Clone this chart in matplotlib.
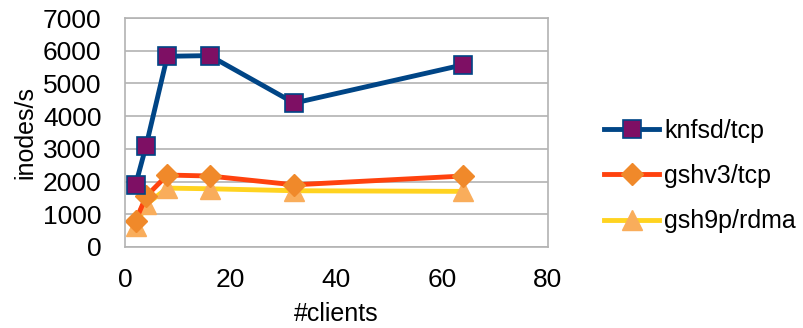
import matplotlib
matplotlib.use("Agg")
import matplotlib.pyplot as plt

plt.rcParams["font.family"] = ["Liberation Sans", "DejaVu Sans"]

clients = [2, 4, 8, 16, 32, 64]
knfsd_tcp = [1900, 3100, 5830, 5850, 4400, 5570]
gshv3_tcp = [800, 1550, 2200, 2170, 1900, 2170]
gsh9p_rdma = [650, 1300, 1800, 1780, 1720, 1700]

fig = plt.figure(figsize=(8.04, 3.28), dpi=100)
ax = fig.add_axes([125 / 804, 1 - 247 / 328, 423 / 804, 229 / 328])

ax.plot(clients, knfsd_tcp, color="#004586", lw=3.5, marker="s", ms=13,
        mfc="#7e0f64", mec="#004586", mew=1.2, label="knfsd/tcp", zorder=3)
ax.plot(clients, gshv3_tcp, color="#ff420e", lw=3.5, marker="D", ms=11.5,
        mfc="#f0892a", mec="#f0892a", label="gshv3/tcp", zorder=2)
ax.plot(clients, gsh9p_rdma, color="#ffd320", lw=3.5, marker="^", ms=14,
        mfc="#f9ad5b", mec="#f9ad5b", label="gsh9p/rdma", zorder=1)

ax.set_xlim(0, 80)
ax.set_ylim(0, 7000)
ax.set_xticks(range(0, 81, 20))
ax.set_yticks(range(0, 7001, 1000))
ax.grid(axis="y", color="#b3b3b3", lw=1.2)
ax.set_axisbelow(True)
for s in ax.spines.values():
    s.set_color("#b3b3b3")
    s.set_linewidth(1.2)
ax.tick_params(length=0, labelsize=19)
ax.tick_params(axis="y", pad=17)
ax.tick_params(axis="x", pad=15)
ax.set_xlabel("#clients", fontsize=18, labelpad=7)
ax.set_ylabel("inodes/s", fontsize=18, labelpad=4)

fig.legend(loc="center left", bbox_to_anchor=(582 / 804, 1 - 176 / 328),
           frameon=False, fontsize=18, handlelength=2.2, handletextpad=0.2,
           labelspacing=0.85)

fig.savefig("out.png", dpi=100)
